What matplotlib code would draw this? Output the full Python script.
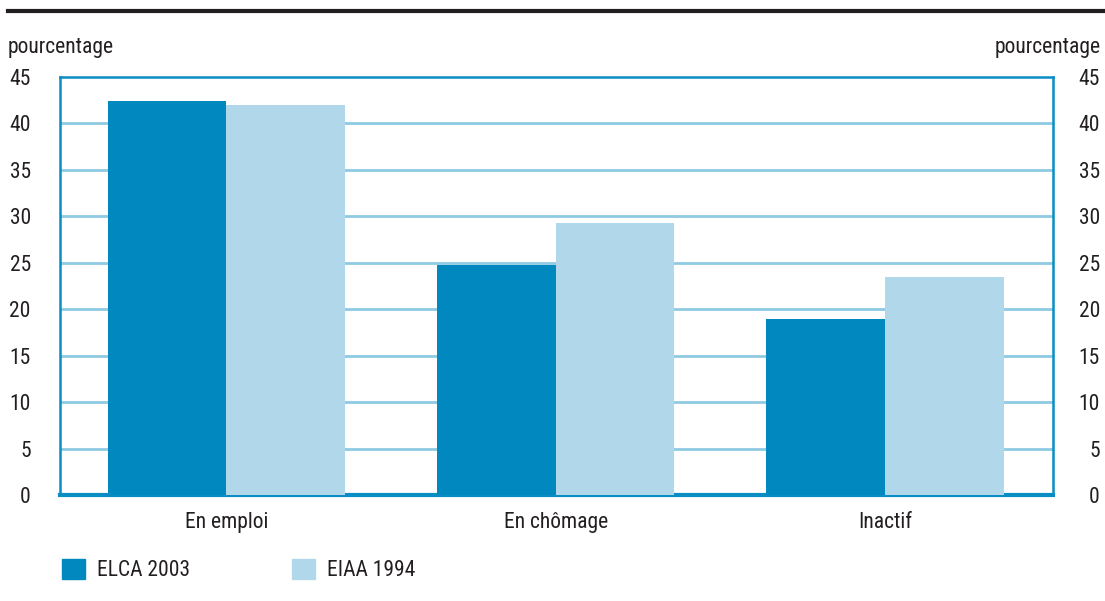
import matplotlib
matplotlib.use("Agg")
import matplotlib.pyplot as plt
import numpy as np
from matplotlib.patches import Rectangle
from matplotlib.lines import Line2D
import matplotlib.transforms as mtransforms

categories = ["En emploi", "En chômage", "Inactif"]
elca_2003 = [42.4, 24.8, 18.9]
eiaa_1994 = [42.0, 29.3, 23.5]
series_names = ["ELCA 2003", "EIAA 1994"]
yticks = [0, 5, 10, 15, 20, 25, 30, 35, 40, 45]

dark = "#0088bf"
light = "#b0d8ea"
grid = "#8ecae2"
spine = "#0a8cc4"
txt = "#231f20"
FS = 15.5

plt.rcParams['font.family'] = ['Roboto Condensed', 'DejaVu Sans']

fig = plt.figure(figsize=(11.05, 6.01), dpi=100)
ax = fig.add_axes([60/1105, 106/601, (1053-60)/1105, (495-77)/601])

x = np.arange(len(categories))
w = 0.36
ax.bar(x - w/2, elca_2003, width=w, color=dark, zorder=3)
ax.bar(x + w/2, eiaa_1994, width=w, color=light, zorder=3)

ax.set_xlim(-0.505, 2.51)
ax.set_ylim(0, 45)
ax.set_yticks(yticks)
ax.set_yticklabels([str(v) for v in yticks])
ax.set_xticks(x)
ax.set_xticklabels(categories)
for v in yticks[1:-1]:
    ax.axhline(v, color=grid, lw=2, zorder=1)

for s in ["left", "right", "top"]:
    ax.spines[s].set_color(spine)
    ax.spines[s].set_linewidth(1.8)
ax.spines["bottom"].set_color(spine)
ax.spines["bottom"].set_linewidth(3)

ax.tick_params(axis="y", length=0, labelsize=FS, labelcolor=txt, pad=21,
               left=False, right=False, labelleft=True, labelright=False)
ax.tick_params(axis="x", length=0, labelsize=FS, labelcolor=txt, pad=12)

# right-side tick labels, right-aligned like the reference
blend = mtransforms.blended_transform_factory(ax.transAxes, ax.transData)
for v in yticks:
    ax.text((1100 - 60) / 993, v, str(v), transform=blend, ha="right", va="center_baseline",
            fontsize=FS, color=txt, clip_on=False)

fig.text(8/1105, 1-48/601, "pourcentage", fontsize=FS, color=txt, ha="left", va="center")
fig.text(1101/1105, 1-48/601, "pourcentage", fontsize=FS, color=txt, ha="right", va="center")

# top rule
fig.add_artist(Line2D([8/1105, 1.0], [1-11/601, 1-11/601], color="#231f20", lw=3, transform=fig.transFigure))

# legend
for i, (name, c) in enumerate(zip(series_names, [dark, light])):
    x0 = [62, 292][i]
    fig.add_artist(Rectangle((x0/1105, 1-579/601), 23/1105, 20/601, color=c, transform=fig.transFigure))
    fig.text((x0+35)/1105, 1-570/601, name, fontsize=FS, color=txt, ha="left", va="center")

fig.savefig("out.png", dpi=100)
